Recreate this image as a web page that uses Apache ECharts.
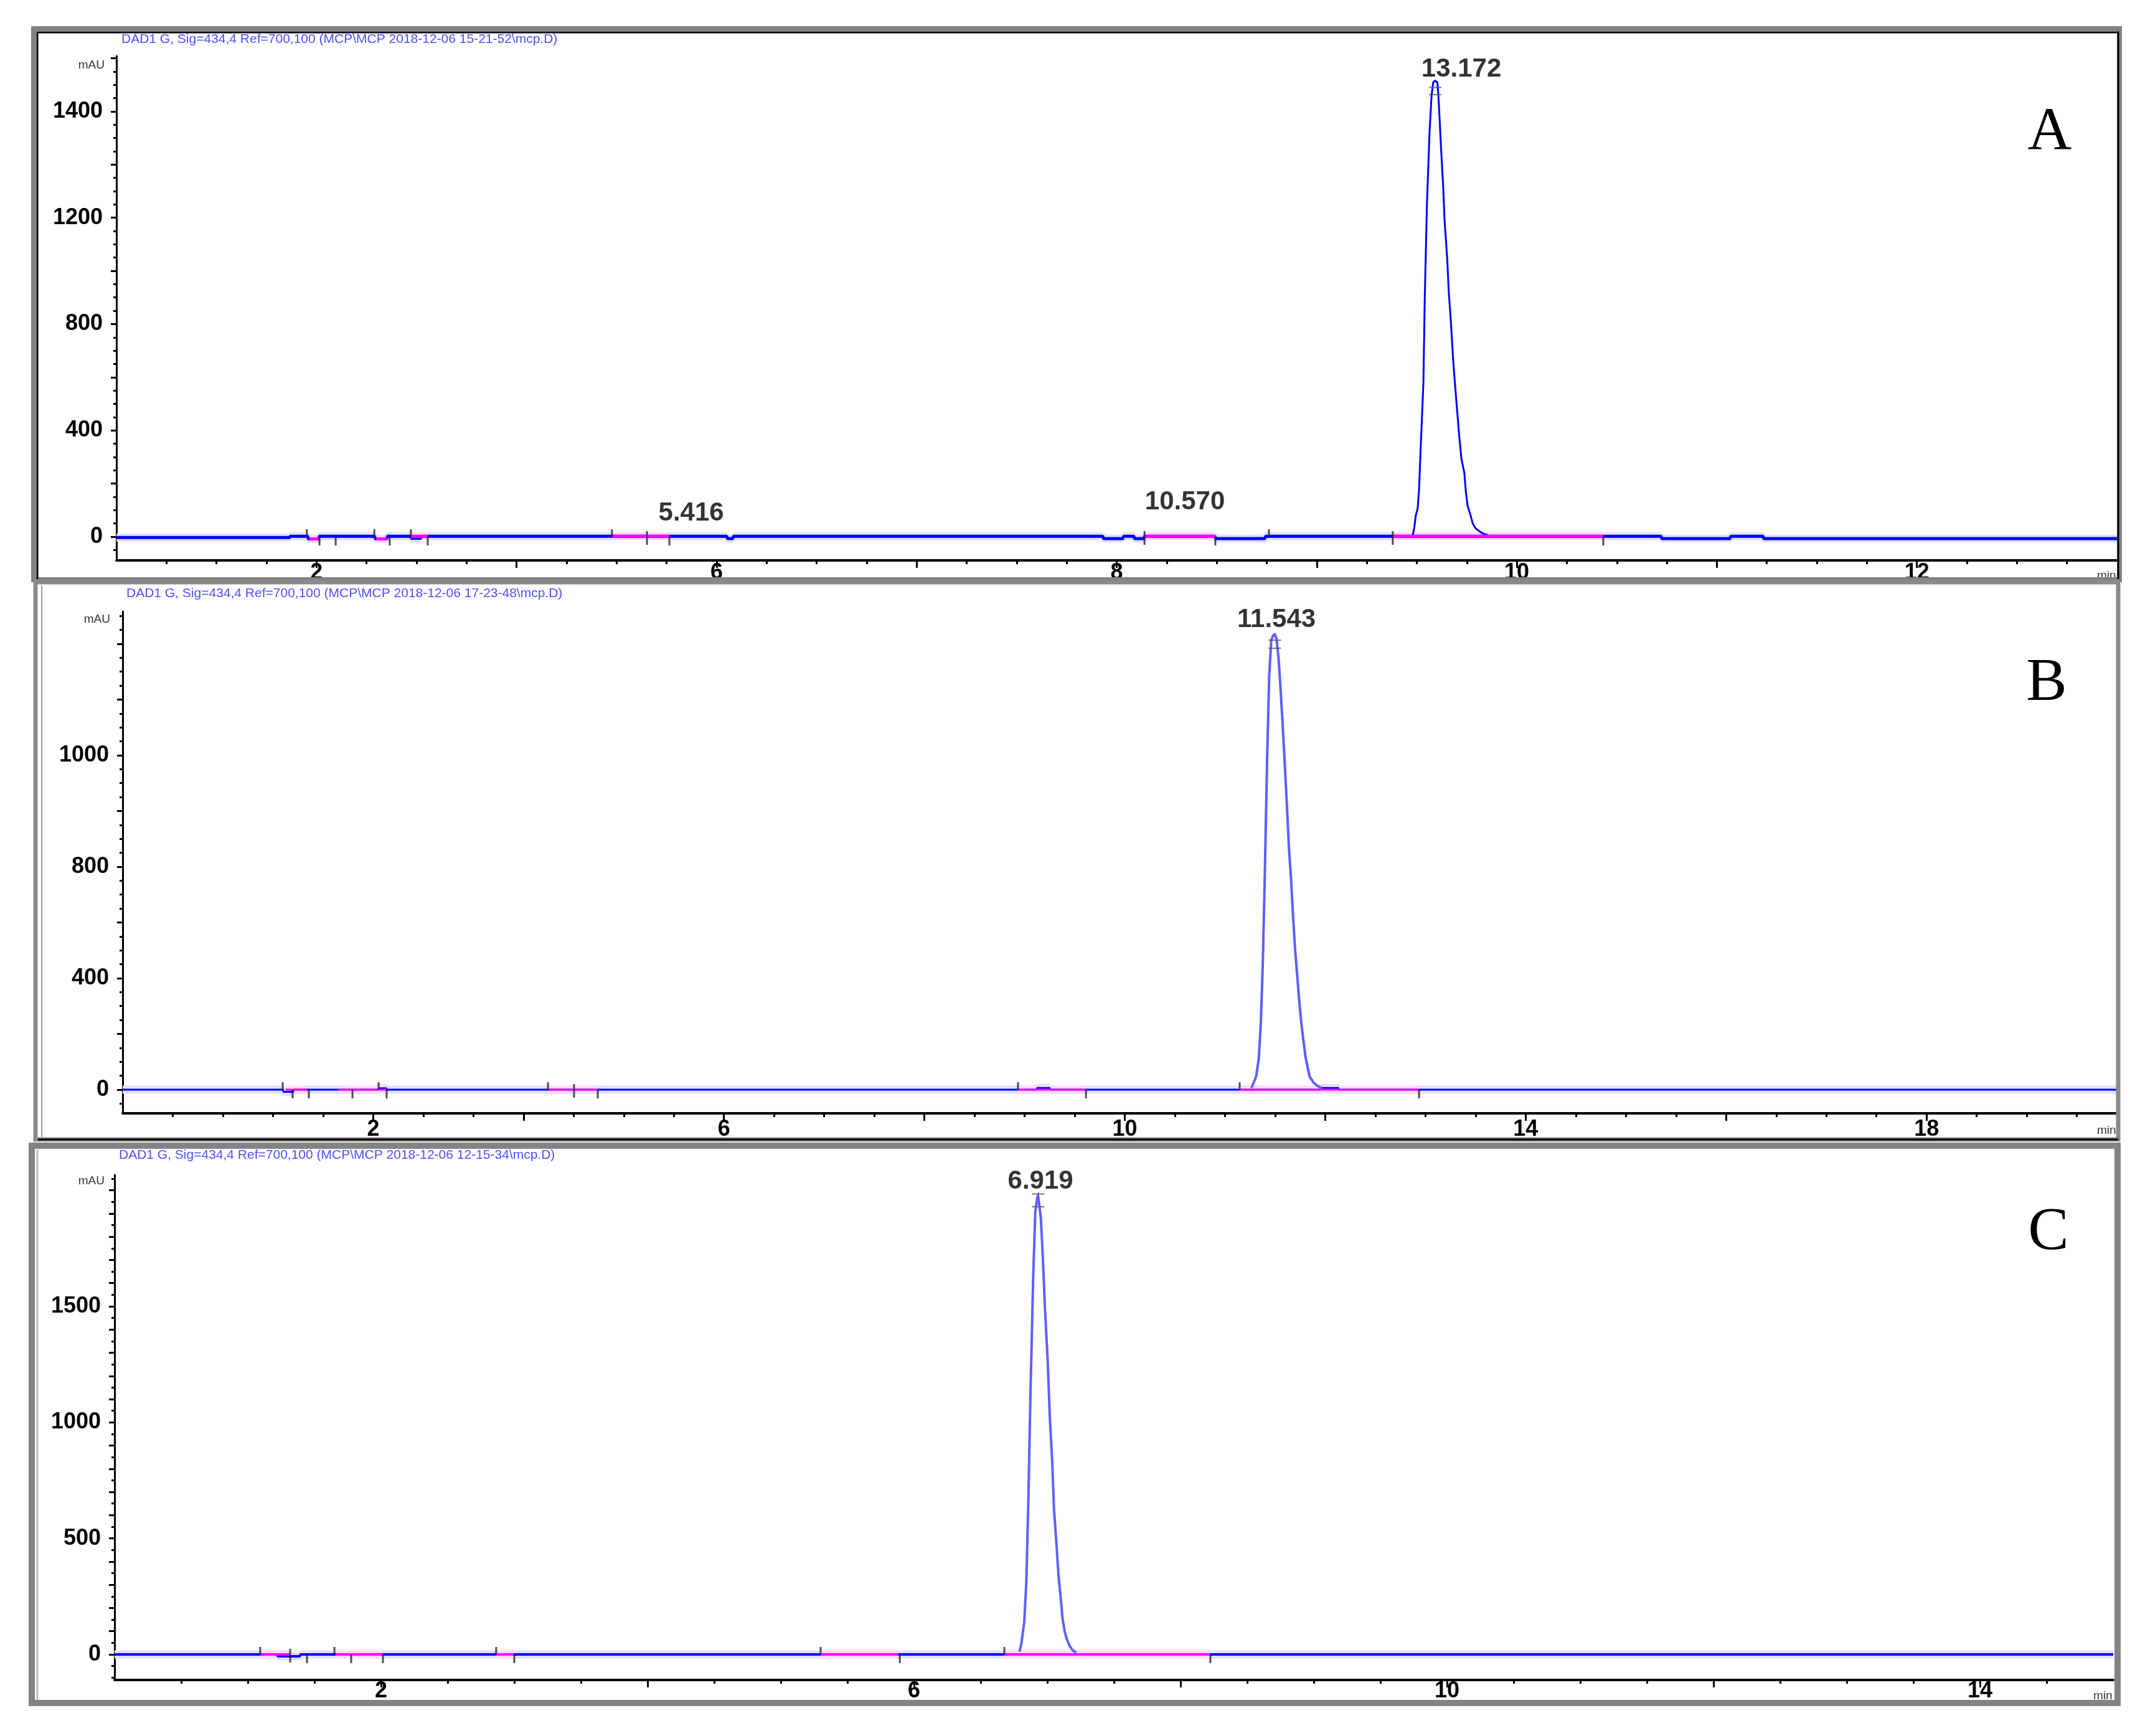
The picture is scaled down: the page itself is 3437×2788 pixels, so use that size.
<!DOCTYPE html>
<html><head><meta charset="utf-8">
<script src="https://cdn.jsdelivr.net/npm/echarts@6/dist/echarts.min.js"></script>
<style>html,body{margin:0;padding:0;background:#fff}#chart{width:3437px;height:2788px}</style>
</head><body><div id="chart"></div>
<script>
// ---------------- DATA ----------------
const headerA = 'DAD1 G, Sig=434,4 Ref=700,100 (MCP\\MCP 2018-12-06 15-21-52\\mcp.D)';
const headerB = 'DAD1 G, Sig=434,4 Ref=700,100 (MCP\\MCP 2018-12-06 17-23-48\\mcp.D)';
const headerC = 'DAD1 G, Sig=434,4 Ref=700,100 (MCP\\MCP 2018-12-06 12-15-34\\mcp.D)';
const panelLetters = ['A', 'B', 'C'];

// tick labels (value on axis -> printed text)
const xTickValsA = [4, 6, 8, 10, 12];
const xTickTextA = ['2', '6', '8', '10', '12'];
const yTickValsA = [0, 400, 800, 1200, 1600];
const yTickTextA = ['0', '400', '800', '1200', '1400'];

const xTickValsB = [2.5, 6, 10, 14, 18];
const xTickTextB = ['2', '6', '10', '14', '18'];
const yTickValsB = [0, 400, 800, 1200];
const yTickTextB = ['0', '400', '800', '1000'];

const xTickValsC = [2, 6, 10, 14];
const xTickTextC = ['2', '6', '10', '14'];
const yTickValsC = [0, 500, 1000, 1500];
const yTickTextC = ['0', '500', '1000', '1500'];

// main peaks [time, mAU]
const peakA = [[9.480,6],[9.488,37],[9.495,80],[9.504,104],[9.511,172],[9.519,325],[9.533,576],[9.540,901],[9.551,1256],[9.564,1525],[9.574,1660],[9.582,1709],[9.592,1715],[9.603,1709],[9.608,1660],[9.613,1587],[9.622,1452],[9.632,1317],[9.639,1189],[9.652,1048],[9.660,919],[9.671,803],[9.681,674],[9.692,564],[9.702,472],[9.712,380],[9.723,294],[9.738,239],[9.745,172],[9.754,117],[9.769,80],[9.780,49],[9.795,31],[9.816,19],[9.837,10],[9.857,6]];
const peakB = [[11.264,6],[11.310,47],[11.337,112],[11.358,246],[11.378,468],[11.399,807],[11.420,1187],[11.440,1479],[11.461,1613],[11.482,1631],[11.496,1634],[11.513,1619],[11.534,1549],[11.555,1432],[11.575,1309],[11.596,1169],[11.617,1023],[11.637,871],[11.658,760],[11.679,620],[11.699,503],[11.720,410],[11.741,316],[11.761,240],[11.782,176],[11.803,118],[11.823,82],[11.844,47],[11.886,24],[11.927,12],[11.968,6]];
const peakC = [[6.791,12],[6.804,41],[6.827,139],[6.843,314],[6.858,665],[6.874,1128],[6.894,1619],[6.910,1907],[6.925,1970],[6.931,1977],[6.952,1879],[6.967,1704],[6.983,1486],[7.003,1268],[7.019,1023],[7.037,833],[7.050,630],[7.069,475],[7.084,342],[7.103,230],[7.115,153],[7.131,97],[7.150,61],[7.170,34],[7.193,17],[7.217,8]];

// baselines [time, mAU]
const baselineA = [[3.00,-3],[3.865,-3],[3.87,2],[3.955,2],[3.96,-8],[4.01,-8],[4.015,2],[4.29,2],[4.295,-8],[4.35,-8],[4.355,2],[4.47,2],[4.475,-6],[4.52,-6],[4.525,2],[6.05,2],[6.055,-7],[6.08,-7],[6.085,2],[7.93,2],[7.935,-7],[8.03,-7],[8.035,2],[8.085,2],[8.09,-7],[8.135,-7],[8.14,2],[8.49,2],[8.495,-7],[8.74,-7],[8.745,2],[10.72,2],[10.725,-7],[11.065,-7],[11.07,2],[11.23,2],[11.235,-7],[13.0,-7]];
const baselineB = [[0,0],[1.60,0],[1.605,-8],[1.70,-8],[1.705,0],[2.55,0],[2.555,5],[2.63,5],[2.635,0],[9.12,0],[9.125,6],[9.25,6],[9.255,0],[11.95,0],[11.955,6],[12.13,6],[12.135,0],[19.9,0]];
const baselineC = [[0,0],[1.22,0],[1.225,-8],[1.39,-8],[1.395,0],[15,0]];

// integration baseline segments [start, end, level]
const magentaA = [[3.965,4.015,-8],[4.298,4.351,-8],[4.472,4.556,2],[5.477,5.764,2],[8.139,8.493,2],[9.380,10.432,2]];
const magentaB = [[1.628,1.839,0],[2.150,2.634,0],[4.250,4.741,0],[8.934,9.612,0],[11.146,12.936,0]];
const magentaC = [[1.093,1.318,0],[1.659,2.014,0],[2.864,3.000,0],[5.299,5.883,0],[6.678,8.224,0]];

// integration event marks (times)
const marksUpA = [3.952, 4.289, 4.472, 5.477, 8.761];
const marksDownA = [4.015, 4.096, 4.366, 4.556, 5.764, 8.493, 10.432];
const marksBothA = [5.652, 8.139, 9.380];
const marksUpB = [1.597, 2.554, 4.244, 8.934, 11.146];
const marksDownB = [1.696, 1.858, 2.293, 2.634, 4.741, 9.612, 12.936];
const marksBothB = [4.504];
const marksUpC = [1.093, 1.650, 2.864, 5.299, 6.678];
const marksDownC = [1.444, 1.776, 2.014, 3.000, 5.893, 8.224];
const marksBothC = [1.318];

// retention time labels [time, mAU, text]
const rtLabelsA = [[9.723,1759,'13.172'],[5.873,87,'5.416'],[8.341,129,'10.570']];
const rtLabelsB = [[11.513,1687,'11.543']];
const rtLabelsC = [[6.949,2039,'6.919']];

// apex marks [time, mAU]
const apexA = [[9.592,1690],[9.592,1663]];
const apexB = [[11.496,1613],[11.496,1584]];
const apexC = [[6.931,1984],[6.931,1929]];

// ---------------- BUILD ----------------
const FONT = '"Liberation Sans", Arial, sans-serif';
function range(a, b, s) { const o = []; const n = Math.round((b - a) / s); for (let i = 0; i <= n; i++) o.push(+(a + i * s).toFixed(4)); return o; }
function lookup(vals, txt) { return v => { const i = vals.findIndex(t => Math.abs(t - v) < 1e-6); return i >= 0 ? txt[i] : ''; }; }

const panels = [
  { grid: { left: 187, top: 90, width: 3213, height: 810 }, x: [3, 13], y: [-89, 1808], xMargin: 2,
    xVals: xTickValsA, xText: xTickTextA, yVals: yTickValsA, yText: yTickTextA,
    xLong: range(4, 12, 1), xMinor: range(3.25, 12.75, 0.25), yLong: range(0, 1800, 200), yMinor: range(-50, 1800, 50),
    base: baselineA, mag: magentaA, peak: peakA, peakColor: '#0000ff', peakW: 3, baseW: 5,
    up: marksUpA, down: marksDownA, both: marksBothA, rt: rtLabelsA, apex: apexA },
  { grid: { left: 197, top: 982, width: 3203, height: 806 }, x: [0, 19.9], y: [-85, 1716], xMargin: 8,
    xVals: xTickValsB, xText: xTickTextB, yVals: yTickValsB, yText: yTickTextB,
    xLong: [2.5, 4, 6, 8, 10, 12, 14, 16, 18], xMinor: range(0.5, 19.5, 0.5), yLong: range(0, 1600, 200), yMinor: range(-50, 1700, 50),
    base: baselineB, mag: magentaB, peak: peakB, peakColor: '#5e5eff', peakW: 4, baseW: 3,
    up: marksUpB, down: marksDownB, both: marksBothB, rt: rtLabelsB, apex: apexB },
  { grid: { left: 184, top: 1887, width: 3210, height: 811 }, x: [0, 15], y: [-110, 2066], xMargin: 0,
    xVals: xTickValsC, xText: xTickTextC, yVals: yTickValsC, yText: yTickTextC,
    xLong: range(2, 14, 2), xMinor: range(0.5, 14.5, 0.5), yLong: range(0, 2000, 100), yMinor: range(-100, 2050, 50),
    base: baselineC, mag: magentaC, peak: peakC, peakColor: '#6060ff', peakW: 4, baseW: 4,
    up: marksUpC, down: marksDownC, both: marksBothC, rt: rtLabelsC, apex: apexC }
];

const grids = [], xAxes = [], yAxes = [], series = [];
panels.forEach((p, gi) => {
  grids.push(Object.assign({ containLabel: false, outerBoundsMode: 'none', show: false }, p.grid));
  const labStyle = { fontSize: 36, fontWeight: 'bold', color: '#000', fontFamily: FONT };
  xAxes.push({ gridIndex: gi, type: 'value', position: 'bottom', min: p.x[0], max: p.x[1],
    axisLine: { show: true, onZero: false, lineStyle: { color: '#000', width: 4 } },
    axisTick: { show: true, customValues: p.xLong, length: 12, lineStyle: { color: '#000', width: 3 } },
    axisLabel: Object.assign({ show: true, customValues: p.xVals, formatter: lookup(p.xVals, p.xText), margin: p.xMargin }, labStyle),
    splitLine: { show: false } });
  xAxes.push({ gridIndex: gi, type: 'value', position: 'bottom', min: p.x[0], max: p.x[1],
    axisLine: { show: false, onZero: false },
    axisTick: { show: true, customValues: p.xMinor, length: 6, lineStyle: { color: '#000', width: 3 } },
    axisLabel: { show: false }, splitLine: { show: false } });
  yAxes.push({ gridIndex: gi, type: 'value', position: 'left', min: p.y[0], max: p.y[1],
    axisLine: { show: true, onZero: false, lineStyle: { color: '#000', width: 3 } },
    axisTick: { show: true, customValues: p.yLong, length: 9, lineStyle: { color: '#000', width: 3 } },
    axisLabel: Object.assign({ show: true, customValues: p.yVals, formatter: lookup(p.yVals, p.yText), margin: 22 }, labStyle),
    splitLine: { show: false } });
  yAxes.push({ gridIndex: gi, type: 'value', position: 'left', min: p.y[0], max: p.y[1],
    axisLine: { show: false, onZero: false },
    axisTick: { show: true, customValues: p.yMinor, length: 5, lineStyle: { color: '#000', width: 3 } },
    axisLabel: { show: false }, splitLine: { show: false } });

  const xi = gi * 2, yi = gi * 2;
  const common = { type: 'line', xAxisIndex: xi, yAxisIndex: yi, symbol: 'none', showSymbol: false, animation: false, silent: true };
  series.push(Object.assign({}, common, { data: p.base, z: 1, lineStyle: { color: '#e0e0fd', width: 13 } }));
  p.mag.forEach(m => series.push(Object.assign({}, common, { data: [[m[0], m[2]], [m[1], m[2]]], z: 1, lineStyle: { color: '#ffd9ff', width: 13 } })));
  series.push(Object.assign({}, common, { data: p.base, z: 3, lineStyle: { color: '#0000ff', width: p.baseW } }));
  series.push(Object.assign({}, common, { data: p.peak, z: 4, lineStyle: { color: p.peakColor, width: p.peakW, join: 'miter' } }));
  p.mag.forEach(m => series.push(Object.assign({}, common, { data: [[m[0], m[2]], [m[1], m[2]]], z: 5, lineStyle: { color: '#ff00ff', width: p.baseW } })));
  const sc = { type: 'scatter', xAxisIndex: xi, yAxisIndex: yi, symbol: 'rect', animation: false, silent: true, z: 6, itemStyle: { color: '#222' } };
  series.push(Object.assign({}, sc, { data: p.up.map(t => [t, 0]), symbolSize: [3, 12], symbolOffset: [0, -6] }));
  series.push(Object.assign({}, sc, { data: p.down.map(t => [t, 0]), symbolSize: [3, 14], symbolOffset: [0, 7] }));
  series.push(Object.assign({}, sc, { data: p.both.map(t => [t, 0]), symbolSize: [3, 22], symbolOffset: [0, 2] }));
  series.push(Object.assign({}, sc, { data: p.apex, symbolSize: [20, 2], itemStyle: { color: '#555' } }));
  series.push({ type: 'scatter', xAxisIndex: xi, yAxisIndex: yi, data: p.rt, symbolSize: 1, animation: false, silent: true, z: 7,
    itemStyle: { color: 'rgba(0,0,0,0)' }, clip: false,
    label: { show: true, position: 'inside', formatter: q => q.data[2], fontSize: 42, fontWeight: 'bold', color: '#000', fontFamily: FONT } });
});

function txt(x, y, text, font, fill, align) {
  return { type: 'text', x: x, y: y, z: 50, silent: true, style: { text: text, font: font, fill: fill, align: align || 'left', verticalAlign: 'middle' } };
}
const graphic = [
  { type: 'rect', z: 100, silent: true, shape: { x: 54, y: 46, width: 3350, height: 885 }, style: { fill: null, stroke: '#828282', lineWidth: 8 } },
  { type: 'polyline', z: 101, silent: true, shape: { points: [[60, 930], [60, 52], [3402, 52], [3402, 930]] }, style: { fill: null, stroke: '#000', lineWidth: 3 } },
  { type: 'rect', z: 100, silent: true, shape: { x: 57, y: 935, width: 3345, height: 895 }, style: { fill: null, stroke: '#8a8a8a', lineWidth: 7 } },
  { type: 'line', z: 101, silent: true, shape: { x1: 67, y1: 940, x2: 67, y2: 1826 }, style: { stroke: '#9a9a9a', lineWidth: 2 } },
  { type: 'line', z: 101, silent: true, shape: { x1: 61, y1: 1830, x2: 3402, y2: 1830 }, style: { stroke: '#000', lineWidth: 3 } },
  { type: 'rect', z: 100, silent: true, shape: { x: 51, y: 1840, width: 3350, height: 895 }, style: { fill: null, stroke: '#838383', lineWidth: 10 } },
  { type: 'line', z: 101, silent: true, shape: { x1: 60, y1: 1846, x2: 60, y2: 2730 }, style: { stroke: '#bdbdbd', lineWidth: 3 } },
  txt(195, 63, headerA, '21px ' + FONT, '#4f4fff'),
  txt(203, 953, headerB, '21px ' + FONT, '#4f4fff'),
  txt(191, 1855, headerC, '21px ' + FONT, '#4f4fff'),
  txt(168, 105, 'mAU', '19px ' + FONT, '#333', 'right'),
  txt(177, 995, 'mAU', '19px ' + FONT, '#333', 'right'),
  txt(168, 1897, 'mAU', '19px ' + FONT, '#333', 'right'),
  txt(3368, 925, 'min', '19px ' + FONT, '#333'),
  txt(3368, 1816, 'min', '19px ' + FONT, '#333'),
  txt(3362, 2724, 'min', '19px ' + FONT, '#333'),
  txt(3292, 213, panelLetters[0], '98px "Liberation Serif", serif', '#000', 'center'),
  txt(3287, 1098, panelLetters[1], '98px "Liberation Serif", serif', '#000', 'center'),
  txt(3290, 1980, panelLetters[2], '98px "Liberation Serif", serif', '#000', 'center')
];

const chart = echarts.init(document.getElementById('chart'));
chart.setOption({
  backgroundColor: '#ffffff',
  animation: false,
  textStyle: { fontFamily: FONT },
  grid: grids, xAxis: xAxes, yAxis: yAxes, series: series, graphic: graphic
});
</script></body></html>
